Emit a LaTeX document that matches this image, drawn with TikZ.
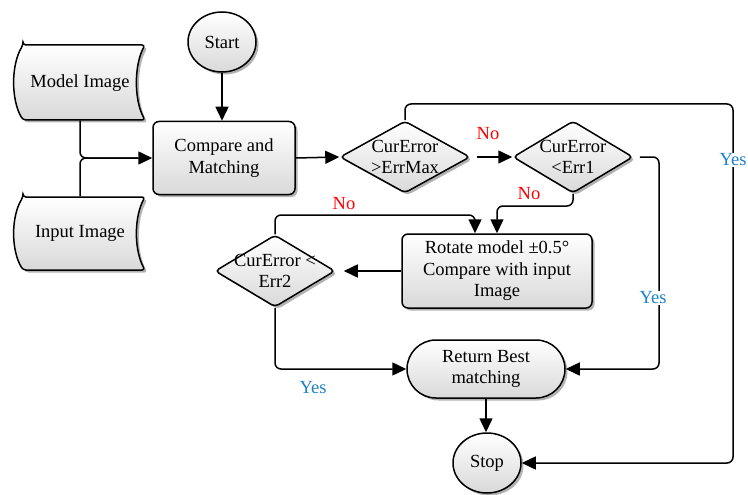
\documentclass[tikz,border=0pt]{standalone}
\usepackage{fontspec}
\setmainfont{Liberation Serif}
\usetikzlibrary{shapes.geometric,shadows,arrows.meta}
\definecolor{yesblue}{RGB}{30,128,205}
\definecolor{nored}{RGB}{255,0,0}
\begin{document}
\begin{tikzpicture}[x=1pt,y=-1pt,
  every node/.style={font=\fontsize{18.5}{21.5}\selectfont},
  shd/.style={drop shadow={shadow xshift=2.5pt,shadow yshift=-2.5pt,fill=black,opacity=0.3}},
  filled/.style={draw,line width=1.5pt,shading=axis,shading angle=160,top color=white,bottom color=black!15,shd},
  proc/.style={filled,rectangle,rounded corners=6pt,align=center,inner sep=0pt},
  dec/.style={filled,diamond,rounded corners=4pt,inner sep=0pt},
  circ/.style={filled,ellipse,inner sep=0pt,minimum width=68pt,minimum height=60pt},
  sd/.style={filled,rounded corners=3pt},
  conn/.style={line width=1.5pt,rounded corners=6pt,-{Triangle[length=14pt,width=13pt]}},
  plain/.style={line width=1.5pt,rounded corners=6pt},
  nolbl/.style={text=nored,inner sep=1pt},
  yeslbl/.style={text=yesblue,inner sep=1pt},
  dtext/.style={align=center,inner sep=0pt}
]
\useasboundingbox (0,0) rectangle (748,495);

% stored data shapes
\path[sd] (23,45) -- (145,45) .. controls (134,65) and (134,100) .. (145,120) -- (23,120) .. controls (11,100) and (11,65) .. (23,45) -- cycle;
\node[minimum width=130pt,minimum height=75pt,inner sep=0pt] (model) at (80,83) {Model Image};
\path[sd] (23,197) -- (145,197) .. controls (134,217) and (134,250) .. (145,270) -- (23,270) .. controls (11,250) and (11,217) .. (23,197) -- cycle;
\node[minimum width=130pt,minimum height=73pt,inner sep=0pt] (input) at (80,233) {Input Image};

\node[circ] (start) at (222,42) {Start};
\node[proc,minimum width=142pt,minimum height=73pt] (cmp) at (224,158) {Compare and\\Matching};

\node[dec,minimum width=130pt,minimum height=72pt] (d1) at (405,157) {};
\node[dtext] (d1t) at (d1) {CurError\\>ErrMax};
\node[dec,minimum width=120pt,minimum height=72pt] (d2) at (573,157) {};
\node[dtext] (d2t) at (d2) {CurError\\<Err1};

\node[proc,minimum width=190pt,minimum height=74pt] (rot) at (497,271) {Rotate model ±0.5°\\Compare with input\\Image};
\node[dec,minimum width=120pt,minimum height=72pt] (d3) at (275,271) {};
\node[dtext] (d3t) at (d3) {CurError <\\Err2};

\node[proc,rounded corners=29pt,minimum width=158pt,minimum height=58pt] (ret) at (486,369) {Return Best\\matching};
\node[circ] (stop) at (487,463) {Stop};

% coordinates
\coordinate (c1) at (733,104);
\coordinate (c2) at (659,157);
\coordinate (c3) at (497,206);
\coordinate (c4) at (475,215);

% connectors
\draw[conn] (model.south) |- (cmp.west);
\draw[plain] (input.north) |- ([xshift=-14pt]cmp.west);
\draw[conn] (start.south) -- (start.south|-cmp.north);
\draw[conn] (cmp.east) -- (d1.west);
\draw[conn] ([xshift=6pt]d1.east) -- (d2.west);
\draw[conn] (d1.north) |- (c1) |- (stop.east);
\draw[conn] ([xshift=6pt]d2.east) -- (c2) |- (ret.east);
\draw[conn] (d2.south) |- (c3) -- (rot.north);
\draw[conn] (rot.west) -- ([xshift=8pt]d3.east);
\draw[conn] (d3.north) |- (c4) -- (c4|-rot.north);
\draw[conn] (d3.south) |- (ret.west);
\draw[conn] (ret.south) -- (ret.south|-stop.north);

% labels
\node[nolbl] (n1) at (488,134) {No};
\node[nolbl] (n2) at (529,194) {No};
\node[nolbl] (n3) at (344,204) {No};
\node[yeslbl,fill=white] (y1) at (733,160) {Yes};
\node[yeslbl,fill=white] (y2) at (653,298) {Yes};
\node[yeslbl] (y3) at (313,388) {Yes};
\end{tikzpicture}
\end{document}
